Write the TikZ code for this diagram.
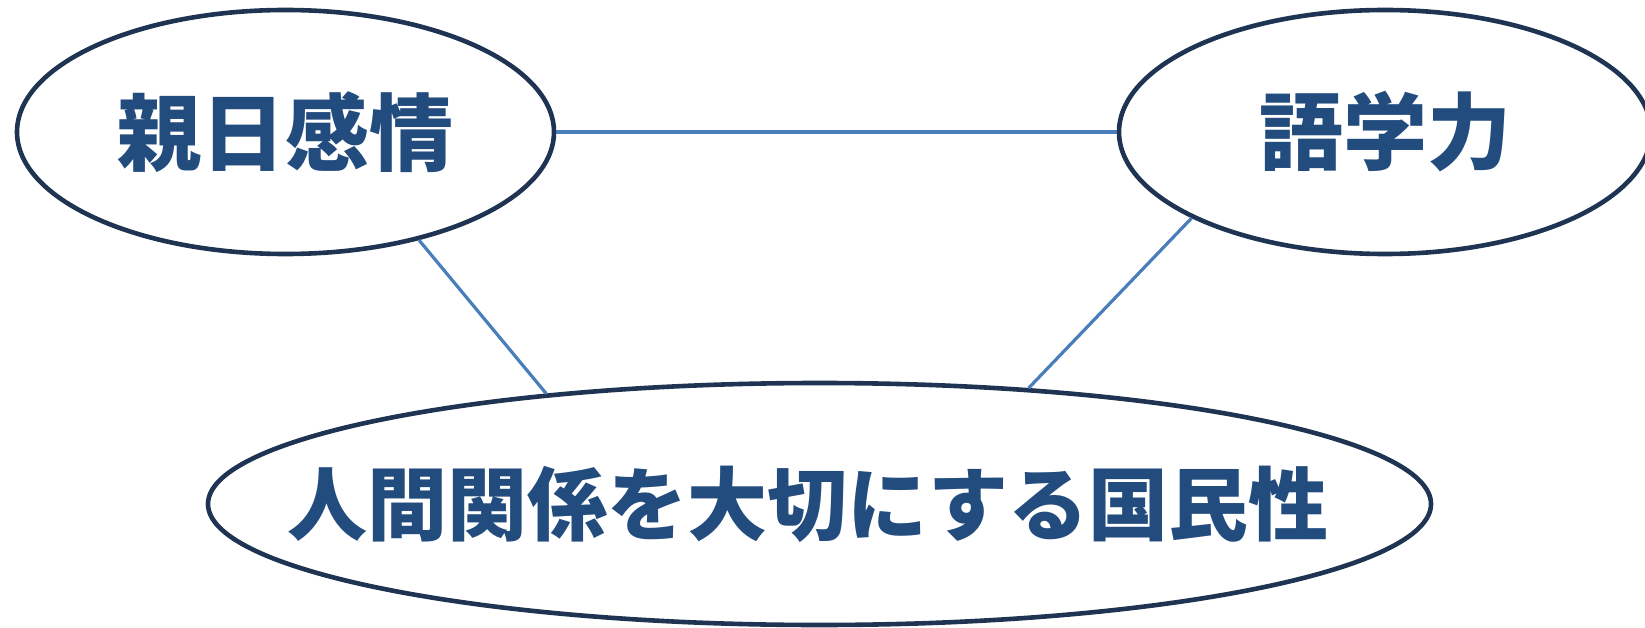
\documentclass[tikz,border=0pt]{standalone}
\usepackage{fontspec}
\newfontfamily\cjk{Noto Sans CJK JP}
\usetikzlibrary{shapes.geometric}
\definecolor{rim}{HTML}{1F3452}
\definecolor{ink}{HTML}{224B7E}
\definecolor{wire}{HTML}{4A7EBB}
\begin{document}
\begin{tikzpicture}[x=1pt,y=1pt,
  bubble/.style={ellipse,draw=rim,line width=4.6pt,fill=white,inner sep=0pt},
  caption/.style={inner sep=0pt,text=ink},
  wirestyle/.style={draw=wire,line width=3.2pt}]
\useasboundingbox (0,0) rectangle (1645,627);
\node[bubble,minimum width=537,minimum height=244] (e1) at (285.5,495) {};
\node[bubble,minimum width=532,minimum height=244] (e2) at (1385,495) {};
\node[bubble,minimum width=1223,minimum height=242] (e3) at (819.5,123) {};
\node[caption,font=\cjk\bfseries\fontsize{84}{90}\selectfont] (t1) at (e1.center) {親日感情};
\node[caption,font=\cjk\bfseries\fontsize{84}{90}\selectfont] (t2) at (e2.center) {語学力};
\node[caption,font=\cjk\bfseries\fontsize{80}{90}\selectfont] (t3) at (808,123) {人間関係を大切にする国民性};
\draw[wirestyle] (e1.east) -- (e2.west);
\draw[wirestyle] (e1.-39.7) -- (e3.158.8);
\draw[wirestyle] (e2.204.8) -- (e3.29.1);
\end{tikzpicture}
\end{document}
